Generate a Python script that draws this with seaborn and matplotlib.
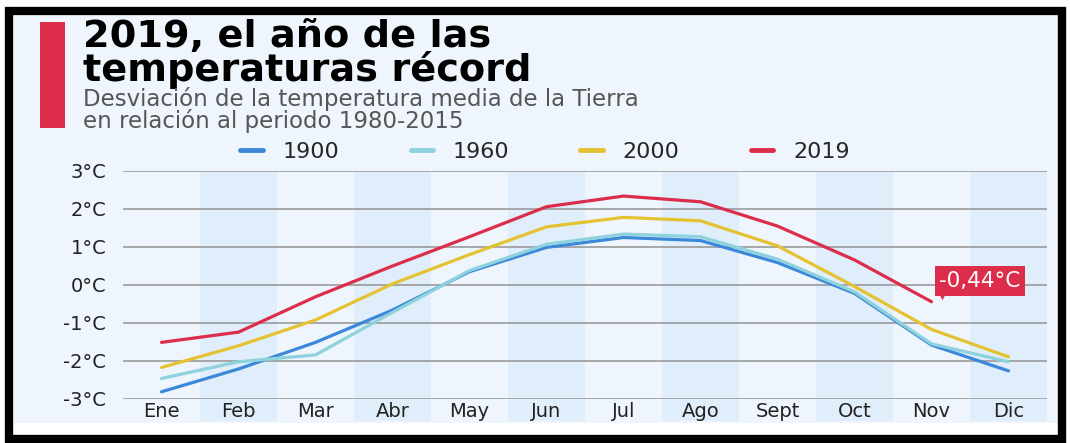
import pandas as pd
import seaborn as sns
import matplotlib.pyplot as plt
from matplotlib.patches import Rectangle
from matplotlib.lines import Line2D

months = ["Ene", "Feb", "Mar", "Abr", "May", "Jun", "Jul", "Ago", "Sept", "Oct", "Nov", "Dic"]
t1900 = [-2.81, -2.21, -1.51, -0.66, 0.35, 0.99, 1.25, 1.17, 0.59, -0.22, -1.58, -2.26]
t1960 = [-2.46, -2.02, -1.84, -0.72, 0.38, 1.07, 1.34, 1.27, 0.68, -0.18, -1.55, -2.02]
t2000 = [-2.17, -1.60, -0.92, 0.03, 0.80, 1.53, 1.78, 1.69, 1.03, -0.04, -1.17, -1.89]
t2019 = [-1.51, -1.24, -0.31, 0.50, 1.27, 2.06, 2.34, 2.19, 1.55, 0.66, -0.44]
yticks = [-3, -2, -1, 0, 1, 2, 3]
series = {"1900": t1900, "1960": t1960, "2000": t2000, "2019": t2019}
colors = {"1900": "#3b87d9", "1960": "#8dd2dc", "2000": "#e4c231", "2019": "#dc2d4b"}

rows = []
for name, vals in series.items():
    for i, v in enumerate(vals):
        rows.append({"mes": i, "serie": name, "temp": v})
df = pd.DataFrame(rows)

sns.set_style("white")
plt.rcParams['font.family'] = ['DejaVu Sans']

fig = plt.figure(figsize=(10.70, 4.43), dpi=100)
fig.patch.set_facecolor("white")

# frame + light background (pixel helpers)
W, H = 1070, 443
fig.patches.append(Rectangle((14 / W, 1 - 423 / H), (1058 - 14) / W, (423 - 16) / H,
                             transform=fig.transFigure, facecolor="#eef5fc", edgecolor="none", zorder=-5))
fig.patches.append(Rectangle((9 / W, 1 - 439 / H), (1062 - 9) / W, (439 - 11) / H,
                             transform=fig.transFigure, facecolor="none", edgecolor="black", lw=6, zorder=1))
fig.patches.append(Rectangle((40 / W, 1 - 128 / H), 25 / W, 106 / H,
                             transform=fig.transFigure, facecolor="#dc2d4b", edgecolor="none", zorder=2))

fig.text(83 / W, 1 - 81 / H, "2019, el año de las\ntemperaturas récord", fontsize=27.5,
         fontweight="bold", color="black", linespacing=0.86, va="baseline")
fig.text(83 / W, 1 - 128 / H, "Desviación de la temperatura media de la Tierra\nen relación al periodo 1980-2015",
         fontsize=16.5, color="#555555", linespacing=0.87, va="baseline")

ax = fig.add_axes([123 / W, 1 - 399 / H, (1047 - 123) / W, (399 - 171) / H])
ax.set_facecolor("none")

for i in range(1, 12, 2):
    ax.axvspan(i - 0.5, i + 0.5, ymin=-0.095, ymax=1, color="#e0edfa", clip_on=False, zorder=0, lw=0)
for y in yticks:
    ax.axhline(y, color="#9a9a9a", lw=1.2, zorder=1)

sns.lineplot(data=df, x="mes", y="temp", hue="serie", palette=colors, lw=2.3,
             legend=False, ax=ax, zorder=3)

ax.set_xlim(-0.5, 11.5)
ax.set_ylim(-3, 3)
ax.set_yticks(yticks)
ax.set_yticklabels([f"{v}°C" for v in yticks], fontsize=14, color="#222222")
ax.set_xticks(range(12))
ax.set_xticklabels(months, fontsize=14, color="#222222")
ax.tick_params(axis="both", length=0)
ax.tick_params(axis="y", pad=12)
ax.tick_params(axis="x", pad=2)
ax.set_xlabel("")
ax.set_ylabel("")
for s in ax.spines.values():
    s.set_visible(False)

# annotation for Nov 2019: red label with a small pointer
ax.annotate("-0,44°C", xy=(10, t2019[10]), xytext=(10.63, 0.11), ha="center", va="center",
            fontsize=15.5, color="white", zorder=5,
            bbox=dict(boxstyle="square,pad=0.22", fc="#dc2d4b", ec="none"))
ax.scatter([10.13], [-0.24], marker="v", s=70, color="#dc2d4b", zorder=5, linewidths=0)

handles = [Line2D([0], [0], color=colors[k], lw=3.5) for k in series]
fig.legend(handles, list(series.keys()), loc="center", bbox_to_anchor=(545 / W, 1 - 152 / H),
           ncol=4, frameon=False, fontsize=16, handlelength=1.0, columnspacing=3.2, handletextpad=0.9)

plt.savefig("out.png", dpi=100)
